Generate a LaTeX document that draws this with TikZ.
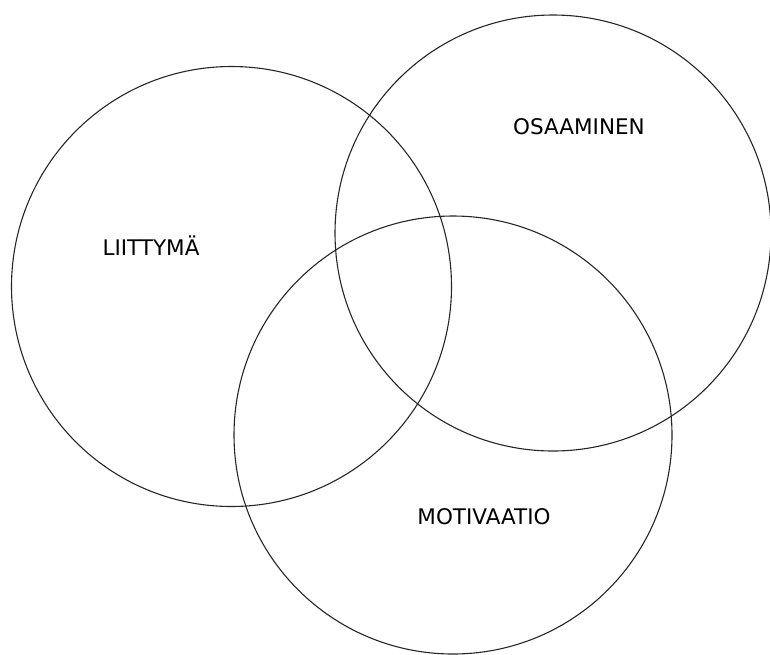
\documentclass[tikz,border=0pt]{standalone}
\usepackage{fontspec}
\setmainfont{DejaVu Sans}
\begin{document}
\begin{tikzpicture}[x=1pt,y=-1pt,
  ring/.style={draw=black!85, line width=1.1pt},
  lbl/.style={font=\fontsize{21.5}{24}\selectfont, text=black, inner sep=0pt}]
\useasboundingbox (0,0) rectangle (770,654);
\draw[ring] (231.5,286.5) circle[radius=220];
\draw[ring] (553,233) circle[radius=218];
\draw[ring] (453,435) circle[radius=219];
\node[lbl] (liittyma) at (151,246) {LIITTYMÄ};
\node[lbl] (osaaminen) at (579,127) {OSAAMINEN};
\node[lbl] (motivaatio) at (484,517) {MOTIVAATIO};
\end{tikzpicture}
\end{document}
